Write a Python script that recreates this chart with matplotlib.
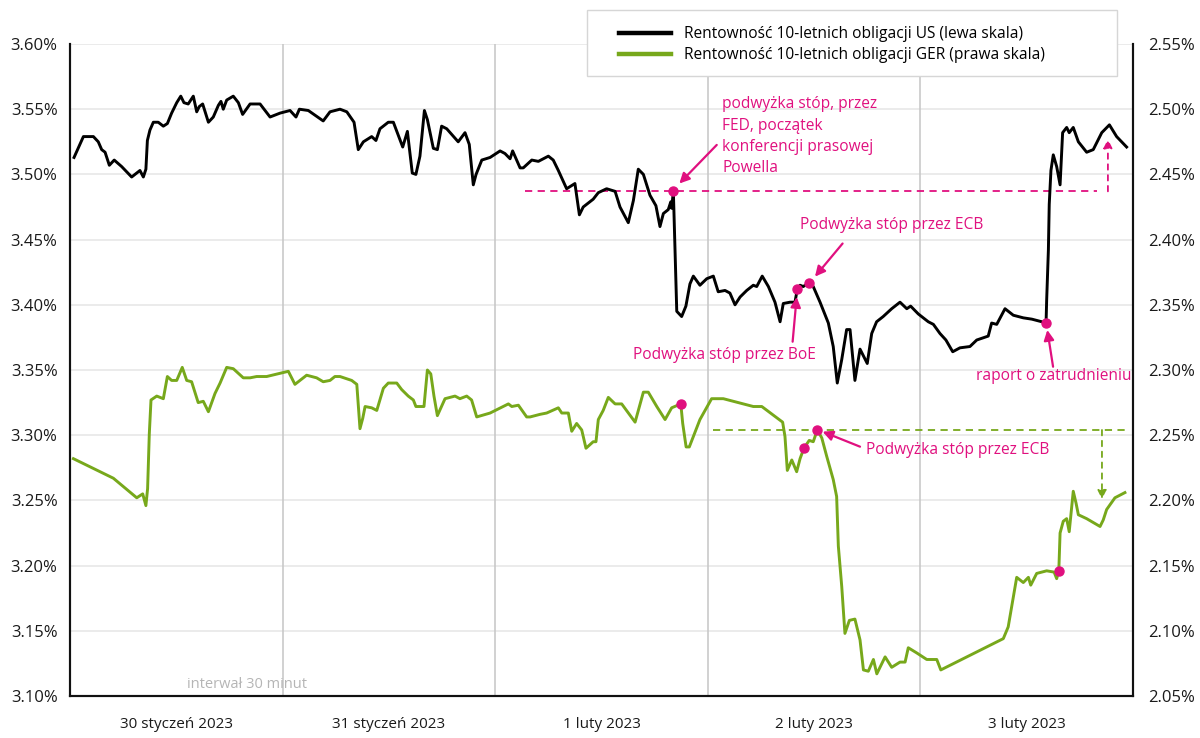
import matplotlib
matplotlib.use("Agg")
import matplotlib.pyplot as plt
from matplotlib.patches import Rectangle
from matplotlib.ticker import FixedLocator, FuncFormatter

plt.rcParams['font.family'] = ['Open Sans', 'DejaVu Sans']

# ---- data (x = days since 30 Jan 2023 00:00, y = yield in %) ----
us_day = [0.019, 0.063, 0.110, 0.133, 0.149, 0.165, 0.185, 0.208, 0.243, 0.290, 0.329, 0.345, 0.357, 0.364,
          0.376, 0.392, 0.415, 0.439, 0.458, 0.478, 0.502, 0.521, 0.536, 0.556, 0.580, 0.596, 0.608, 0.624,
          0.651, 0.674, 0.698, 0.710, 0.721, 0.737, 0.768, 0.792, 0.812, 0.847, 0.894, 0.941, 0.988, 1.035,
          1.063, 1.079, 1.121, 1.191, 1.223, 1.270, 1.302, 1.336, 1.356, 1.380, 1.419, 1.439, 1.458, 1.497,
          1.521, 1.565, 1.587, 1.610, 1.627, 1.646, 1.667, 1.681, 1.709, 1.728, 1.748, 1.772, 1.826, 1.858,
          1.878, 1.897, 1.910, 1.937, 1.976, 2.023, 2.046, 2.070, 2.082, 2.117, 2.132, 2.172, 2.203, 2.250,
          2.273, 2.297, 2.336, 2.375, 2.396, 2.414, 2.461, 2.485, 2.524, 2.564, 2.587, 2.626, 2.650, 2.673,
          2.697, 2.728, 2.756, 2.775, 2.791, 2.814, 2.826, 2.830, 2.838, 2.846, 2.854, 2.877, 2.897, 2.916,
          2.932, 2.963, 2.995, 3.026, 3.049, 3.081, 3.104, 3.128, 3.152, 3.183, 3.214, 3.230, 3.256, 3.285,
          3.316, 3.340, 3.355, 3.387, 3.410, 3.421, 3.434, 3.449, 3.476, 3.496, 3.528, 3.567, 3.590, 3.609,
          3.630, 3.653, 3.669, 3.692, 3.716, 3.750, 3.771, 3.794, 3.825, 3.865, 3.904, 3.936, 3.954, 3.990,
          4.037, 4.061, 4.092, 4.120, 4.152, 4.186, 4.233, 4.265, 4.319, 4.335, 4.359, 4.398, 4.437, 4.484,
          4.524, 4.571, 4.591, 4.594, 4.602, 4.606, 4.614, 4.625, 4.641, 4.657, 4.669, 4.688, 4.700, 4.719,
          4.743, 4.782, 4.813, 4.853, 4.889, 4.923, 4.970]
us_yield = [3.513, 3.529, 3.529, 3.525, 3.519, 3.517, 3.507, 3.511, 3.506, 3.498, 3.503, 3.498, 3.504, 3.526,
            3.534, 3.540, 3.540, 3.537, 3.539, 3.547, 3.555, 3.560, 3.555, 3.554, 3.560, 3.548, 3.552, 3.554,
            3.540, 3.544, 3.553, 3.556, 3.550, 3.557, 3.560, 3.555, 3.546, 3.554, 3.554, 3.544, 3.547, 3.549,
            3.544, 3.550, 3.549, 3.541, 3.548, 3.550, 3.548, 3.540, 3.519, 3.525, 3.529, 3.526, 3.535, 3.540,
            3.540, 3.521, 3.533, 3.501, 3.500, 3.514, 3.549, 3.542, 3.520, 3.519, 3.537, 3.535, 3.525, 3.532,
            3.523, 3.492, 3.500, 3.511, 3.513, 3.518, 3.516, 3.512, 3.518, 3.505, 3.505, 3.511, 3.510, 3.514,
            3.511, 3.503, 3.489, 3.493, 3.469, 3.475, 3.481, 3.486, 3.489, 3.487, 3.475, 3.463, 3.480, 3.504,
            3.500, 3.484, 3.476, 3.460, 3.470, 3.473, 3.479, 3.474, 3.487, 3.442, 3.395, 3.391, 3.399, 3.416,
            3.422, 3.415, 3.420, 3.422, 3.410, 3.411, 3.409, 3.400, 3.406, 3.411, 3.415, 3.414, 3.422, 3.414,
            3.402, 3.387, 3.401, 3.402, 3.402, 3.412, 3.415, 3.414, 3.417, 3.414, 3.402, 3.386, 3.368, 3.340,
            3.358, 3.381, 3.381, 3.342, 3.366, 3.355, 3.378, 3.387, 3.391, 3.397, 3.402, 3.397, 3.399, 3.393,
            3.387, 3.385, 3.378, 3.373, 3.364, 3.367, 3.368, 3.373, 3.376, 3.386, 3.385, 3.397, 3.392, 3.390,
            3.389, 3.387, 3.386, 3.404, 3.442, 3.477, 3.503, 3.515, 3.506, 3.492, 3.532, 3.536, 3.532, 3.536,
            3.525, 3.517, 3.519, 3.532, 3.538, 3.529, 3.521]

ger_day = [0.016, 0.204, 0.314, 0.342, 0.357, 0.365, 0.373, 0.381, 0.408, 0.439, 0.458, 0.478, 0.502, 0.528,
           0.549, 0.572, 0.603, 0.627, 0.651, 0.682, 0.706, 0.737, 0.768, 0.815, 0.847, 0.878, 0.925, 1.027,
           1.058, 1.113, 1.160, 1.191, 1.223, 1.246, 1.270, 1.325, 1.349, 1.364, 1.377, 1.388, 1.419, 1.443,
           1.474, 1.497, 1.537, 1.560, 1.591, 1.615, 1.627, 1.665, 1.681, 1.697, 1.712, 1.728, 1.764, 1.811,
           1.834, 1.866, 1.889, 1.913, 1.976, 2.062, 2.078, 2.109, 2.148, 2.164, 2.211, 2.242, 2.297, 2.313,
           2.344, 2.360, 2.383, 2.407, 2.427, 2.461, 2.474, 2.485, 2.508, 2.532, 2.564, 2.595, 2.658, 2.697,
           2.720, 2.760, 2.799, 2.830, 2.873, 2.882, 2.898, 2.913, 2.963, 3.018, 3.073, 3.214, 3.254, 3.352,
           3.363, 3.374, 3.395, 3.418, 3.434, 3.452, 3.477, 3.496, 3.515, 3.536, 3.559, 3.590, 3.606, 3.614,
           3.630, 3.645, 3.666, 3.692, 3.716, 3.732, 3.755, 3.779, 3.795, 3.834, 3.865, 3.904, 3.928, 3.943,
           3.983, 4.030, 4.077, 4.096, 4.390, 4.413, 4.437, 4.453, 4.484, 4.508, 4.519, 4.547, 4.594, 4.629,
           4.641, 4.651, 4.657, 4.672, 4.688, 4.700, 4.719, 4.732, 4.743, 4.782, 4.845, 4.860, 4.876, 4.915,
           4.962]
ger_yield = [2.232, 2.217, 2.202, 2.205, 2.196, 2.209, 2.251, 2.277, 2.280, 2.278, 2.295, 2.292, 2.292, 2.302,
             2.292, 2.291, 2.275, 2.276, 2.268, 2.282, 2.290, 2.302, 2.301, 2.294, 2.294, 2.295, 2.295, 2.299,
             2.289, 2.296, 2.294, 2.291, 2.292, 2.295, 2.295, 2.292, 2.289, 2.255, 2.263, 2.272, 2.271, 2.269,
             2.286, 2.290, 2.290, 2.285, 2.280, 2.277, 2.272, 2.272, 2.300, 2.297, 2.280, 2.265, 2.278, 2.280,
             2.278, 2.280, 2.277, 2.264, 2.267, 2.274, 2.272, 2.273, 2.264, 2.264, 2.266, 2.267, 2.271, 2.267,
             2.267, 2.253, 2.259, 2.254, 2.240, 2.245, 2.245, 2.262, 2.269, 2.279, 2.274, 2.274, 2.260, 2.283,
             2.283, 2.272, 2.262, 2.271, 2.274, 2.259, 2.241, 2.241, 2.262, 2.278, 2.278, 2.272, 2.272, 2.260,
             2.249, 2.223, 2.231, 2.222, 2.232, 2.240, 2.246, 2.245, 2.254, 2.248, 2.234, 2.216, 2.203, 2.165,
             2.134, 2.098, 2.108, 2.109, 2.093, 2.070, 2.069, 2.078, 2.067, 2.080, 2.072, 2.076, 2.076, 2.087,
             2.083, 2.078, 2.078, 2.070, 2.094, 2.103, 2.126, 2.141, 2.137, 2.141, 2.135, 2.144, 2.146, 2.145,
             2.140, 2.146, 2.175, 2.184, 2.186, 2.176, 2.207, 2.198, 2.189, 2.186, 2.180, 2.185, 2.193, 2.202,
             2.206]

# events (marked with dots)
us_event_day = [2.838, 3.421, 3.476, 4.591]
us_event_val = [3.487, 3.412, 3.417, 3.386]
ger_event_day = [2.873, 3.452, 3.515, 4.651]
ger_event_val = [2.274, 2.240, 2.254, 2.146]

day_labels = ['30 styczeń 2023', '31 styczeń 2023', '1 luty 2023', '2 luty 2023', '3 luty 2023']
left_ticks = [3.10, 3.15, 3.20, 3.25, 3.30, 3.35, 3.40, 3.45, 3.50, 3.55, 3.60]
right_ticks = [2.05, 2.10, 2.15, 2.20, 2.25, 2.30, 2.35, 2.40, 2.45, 2.50, 2.55]

legend_us = 'Rentowność 10-letnich obligacji US (lewa skala)'
legend_ger = 'Rentowność 10-letnich obligacji GER (prawa skala)'

BLACK = '#000000'
GREEN = '#77a81b'
PINK = '#e0107f'
FS = 11.2

W, H = 1200, 738
fig = plt.figure(figsize=(W / 100, H / 100), dpi=100)
ax = fig.add_axes([70 / W, 1 - 696 / H, (1133 - 70) / W, (696 - 44) / H])
ax2 = ax.twinx()

ax.set_xlim(0, 5)
ax.set_ylim(left_ticks[0], left_ticks[-1])
ax2.set_ylim(right_ticks[0], right_ticks[-1])

# grid
for v in left_ticks[1:]:
    ax.axhline(v, color='#e8e8e8', lw=1.2, zorder=0)
for d in range(1, 5):
    ax.axvline(d, color='#c9c9c9', lw=1.2, zorder=0)

ax.xaxis.set_major_locator(FixedLocator([i + 0.5 for i in range(5)]))
ax.set_xticklabels(day_labels)
ax.set_yticks(left_ticks)
ax.yaxis.set_major_formatter(FuncFormatter(lambda v, p: f'{v:.2f}%'))
ax2.set_yticks(right_ticks)
ax2.yaxis.set_major_formatter(FuncFormatter(lambda v, p: f'{v:.2f}%'))
ax.tick_params(axis='x', length=0, labelsize=11, colors='#1a1a1a', pad=15)
ax.tick_params(axis='y', length=0, labelsize=12, colors='#1a1a1a', pad=9)
ax2.tick_params(axis='y', length=0, labelsize=12, colors='#1a1a1a', pad=11)

for a in (ax, ax2):
    a.spines['top'].set_visible(False)
    for s in ('left', 'right', 'bottom'):
        a.spines[s].set_linewidth(1.5)
        a.spines[s].set_color('#111111')

# lines
ax.plot(us_day, us_yield, color=BLACK, lw=2.1, zorder=3, solid_joinstyle='round')
ax2.plot(ger_day, ger_yield, color=GREEN, lw=2.1, zorder=3, solid_joinstyle='round')

# reference dashed lines and arrows
ax.plot([2.140, 4.831], [us_event_val[0], us_event_val[0]], color=PINK, lw=1.3, ls=(0, (4, 3)), zorder=2)
ax2.plot([3.025, 4.972], [ger_event_val[2], ger_event_val[2]], color=GREEN, lw=1.3, ls=(0, (4, 3)), zorder=2)
ax.annotate('', xy=(4.882, 3.527), xytext=(4.882, us_event_val[0]),
            arrowprops=dict(arrowstyle='-|>', color=PINK, lw=1.3, ls=(0, (3, 3)), mutation_scale=13,
                            shrinkA=0, shrinkB=0))
ax2.annotate('', xy=(4.854, 2.201), xytext=(4.854, ger_event_val[2]),
             arrowprops=dict(arrowstyle='-|>', color=GREEN, lw=1.3, ls=(0, (3, 3)), mutation_scale=13,
                             shrinkA=0, shrinkB=0))

# event markers
ax.plot(us_event_day, us_event_val, 'o', color=PINK, ms=6.5, zorder=5)
ax2.plot(ger_event_day, ger_event_val, 'o', color=PINK, ms=6.5, zorder=5)

# annotations
arr = dict(arrowstyle='-|>', color=PINK, lw=1.6, mutation_scale=15, shrinkA=0, shrinkB=0)
ax.text(3.067, 3.560, 'podwyżka stóp, przez\nFED, początek\nkonferencji prasowej\nPowella',
        color=PINK, fontsize=FS, va='top', ha='left', linespacing=1.45)
ax.annotate('', xy=(2.866, 3.493), xytext=(3.042, 3.5226), arrowprops=arr)
ax.text(3.434, 3.461, 'Podwyżka stóp przez ECB', color=PINK, fontsize=FS, va='center', ha='left')
ax.annotate('', xy=(3.504, 3.4216), xytext=(3.634, 3.447), arrowprops=arr)
ax.text(2.648, 3.3615, 'Podwyżka stóp przez BoE', color=PINK, fontsize=FS, va='center', ha='left')
ax.annotate('', xy=(3.418, 3.406), xytext=(3.399, 3.3717), arrowprops=arr)
ax.text(4.262, 3.3454, 'raport o zatrudnieniu', color=PINK, fontsize=FS, va='center', ha='left')
ax.annotate('', xy=(4.597, 3.3807), xytext=(4.624, 3.3525), arrowprops=arr)
ax2.text(3.744, 2.2387, 'Podwyżka stóp przez ECB', color=PINK, fontsize=FS, va='center', ha='left')
ax2.annotate('', xy=(3.540, 2.2527), xytext=(3.716, 2.2412), arrowprops=arr)

ax.text(0.55, 3.1085, 'interwał 30 minut', color='#b5b5b5', fontsize=10.5, va='center', ha='left')

# legend box
fig.add_artist(Rectangle((587 / W, 1 - 76 / H), (1117 - 587) / W, (76 - 10) / H,
                         transform=fig.transFigure, facecolor='white', edgecolor='#d6d6d6',
                         lw=1.0, zorder=4))
h1, = ax.plot([], [], color=BLACK, lw=3.2)
h2, = ax.plot([], [], color=GREEN, lw=3.2)
leg = fig.legend([h1, h2], [legend_us, legend_ger], loc='upper left',
                 bbox_to_anchor=(607 / W, 1 - 14 / H), frameon=False, fontsize=11.2,
                 handlelength=3.3, handletextpad=0.85, labelspacing=0.3, borderpad=0.3)
leg.set_zorder(6)

fig.savefig('out.png', dpi=100)
